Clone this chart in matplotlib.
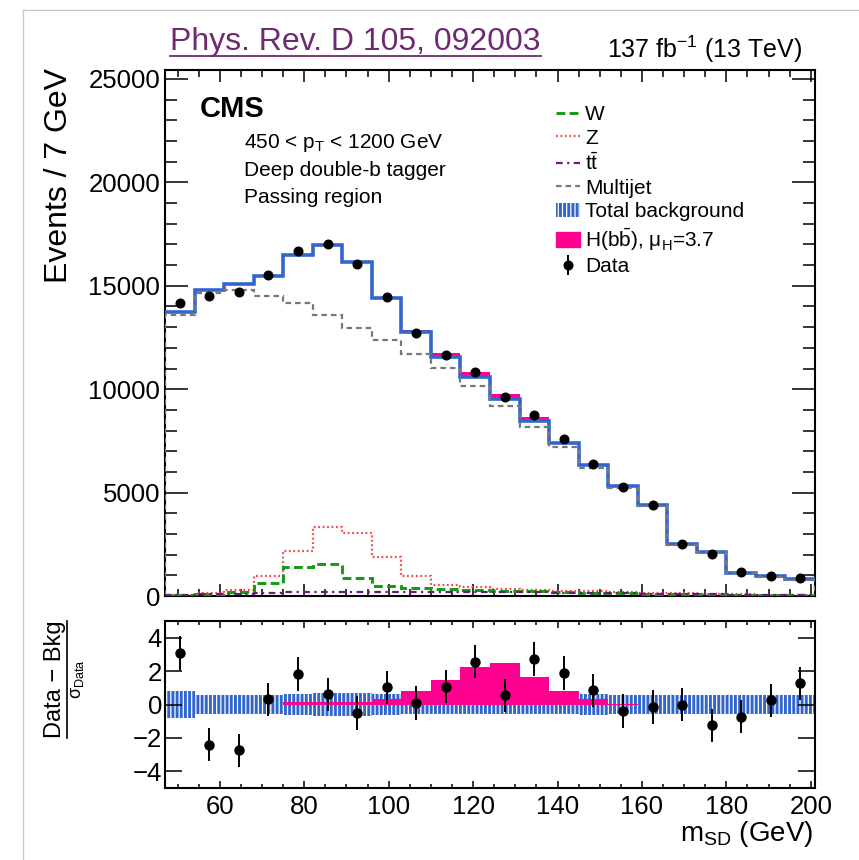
import numpy as np
import matplotlib.pyplot as plt
from matplotlib.lines import Line2D
from matplotlib.patches import Patch

plt.rcParams['font.family'] = ['Liberation Sans', 'DejaVu Sans']
plt.rcParams['mathtext.fontset'] = 'custom'
plt.rcParams['mathtext.rm'] = 'Liberation Sans'
plt.rcParams['mathtext.it'] = 'Liberation Sans:italic'
plt.rcParams['mathtext.bf'] = 'Liberation Sans:bold'
plt.rcParams['mathtext.sf'] = 'Liberation Sans'
plt.rcParams['hatch.linewidth'] = 2.1

# m_SD bins (7 GeV)
msd_edges = [47, 54, 61, 68, 75, 82, 89, 96, 103, 110, 117, 124, 131, 138,
             145, 152, 159, 166, 173, 180, 187, 194, 201]

data = [14160, 14520, 14700, 15520, 16670, 17010, 16050, 14470, 12710, 11660, 10820,
        9610, 8740, 7590, 6380, 5280, 4380, 2500, 2050, 1150, 980, 860]
total_bkg = [13730, 14780, 15070, 15470, 16470, 16960, 16150, 14410, 12790, 11580, 10610,
             9530, 8480, 7380, 6330, 5300, 4410, 2500, 2150, 1130, 950, 810]
multijet = [13600, 14650, 14810, 14490, 14160, 13600, 12970, 12360, 11710, 11030, 10140,
            9200, 8190, 7220, 6170, 5230, 4370, 2470, 2120, 1110, 935, 790]
z_bkg = [60, 130, 300, 970, 2180, 3330, 3070, 1890, 970, 530, 420,
         350, 300, 260, 220, 190, 160, 130, 110, 90, 70, 60]
w_bkg = [40, 90, 180, 645, 1420, 1530, 860, 480, 380, 330, 290,
         250, 220, 190, 160, 140, 120, 100, 80, 70, 55, 45]
tt_bkg = [40, 80, 120, 160, 190, 200, 210, 215, 215, 210, 200,
          190, 175, 160, 145, 130, 115, 100, 85, 70, 60, 50]

# lower panel: (data - bkg) / sigma_data, signal and bkg uncertainty in the same units
pull = [3.08, -2.41, -2.75, 0.30, 1.83, 0.60, -0.50, 1.03, 0.10, 1.07, 2.57,
        0.54, 2.73, 1.89, 0.84, -0.40, -0.16, 0.0, -1.25, -0.73, 0.24, 1.27]
sig_pull = [0, 0, 0, 0, 0.16, 0.16, 0.16, 0.34, 0.80, 1.45, 2.25,
            2.49, 1.65, 0.79, 0.30, 0.05, 0, 0, 0, 0, 0, 0]
bkg_unc = [0.82, 0.57, 0.57, 0.57, 0.63, 0.70, 0.70, 0.62, 0.57, 0.57, 0.57,
           0.58, 0.58, 0.55, 0.60, 0.55, 0.55, 0.55, 0.55, 0.55, 0.55, 0.58]

edges = np.array(msd_edges, dtype=float)
centers = 0.5 * (edges[1:] + edges[:-1])
widths = np.diff(edges)
data = np.array(data, dtype=float)
total_bkg = np.array(total_bkg, dtype=float)
sig_pull = np.array(sig_pull)
bkg_unc = np.array(bkg_unc)
sig_events = sig_pull * np.sqrt(data)

blue = '#3366cc'
pink = '#ff0090'
green = '#129a12'
red = '#f04848'
purple = '#6a1b7a'
gray = '#777777'

W, H = 859, 860
fig = plt.figure(figsize=(W / 100, H / 100), dpi=100)
ax = fig.add_axes([165 / W, 1 - 596 / H, 650 / W, 526 / H])
ax2 = fig.add_axes([165 / W, 1 - 788 / H, 650 / W, 167 / H], sharex=ax)

#
# Upper panel
#
ax.stairs(total_bkg + sig_events, edges, baseline=total_bkg, fill=True,
          color=pink, zorder=2)
ax.stairs(total_bkg, edges, baseline=None, color=blue, lw=2.6, zorder=3)
ax.stairs(multijet, edges, baseline=0, color=gray, lw=1.6, ls=(0, (2.5, 1.8)), zorder=4)
ax.stairs(z_bkg, edges, baseline=0, color=red, lw=1.6, ls=(0, (0.8, 1.2)), zorder=4)
ax.stairs(w_bkg, edges, baseline=0, color=green, lw=2.1, ls=(0, (3, 1.5)), zorder=4)
ax.stairs(tt_bkg, edges, baseline=0, color=purple, lw=1.6, ls=(0, (3, 2, 1, 2)), zorder=4)
data_eb = ax.errorbar(centers, data, yerr=np.sqrt(data), fmt='o', color='black',
                      ms=6.2, elinewidth=1.4, capsize=0, zorder=5)

ax.set_xlim(47, 201)
ax.set_ylim(0, 25435)
ax.set_yticks([0, 5000, 10000, 15000, 20000, 25000])
ax.set_yticks(np.arange(0, 25001, 1000), minor=True)
ax.set_xticks([60, 80, 100, 120, 140, 160, 180, 200])
ax.set_xticks(np.arange(50, 201, 5), minor=True)
ax.tick_params(which='both', direction='in', top=True, right=True, width=1.1,
               labelbottom=False, labelsize=18.5)
ax.tick_params(axis='y', which='major', length=16.5, pad=3.5)
ax.tick_params(axis='y', which='minor', length=8.5)
ax.tick_params(axis='x', which='major', length=8.5)
ax.tick_params(axis='x', which='minor', length=4.8)
for s in ax.spines.values():
    s.set_linewidth(1.5)

handles = [
    Line2D([], [], color=green, lw=2.1, ls=(0, (3, 1.5))),
    Line2D([], [], color=red, lw=1.6, ls=(0, (0.8, 1.2))),
    Line2D([], [], color=purple, lw=1.6, ls=(0, (3, 2, 1, 2))),
    Line2D([], [], color=gray, lw=1.6, ls=(0, (2.5, 1.8))),
    Patch(facecolor='none', edgecolor=blue, hatch='||||', linewidth=0),
    Patch(facecolor=pink, edgecolor=pink),
    data_eb,
]
labels = ['W', 'Z', r't$\bar{\mathrm{t}}$', 'Multijet', 'Total background',
          'H(b$\\bar{\\mathrm{b}}$), \u03bc$_{\\mathrm{H}}$=3.7', 'Data']
ax.legend(handles, labels, loc='upper left', bbox_to_anchor=(556 / W, 1 - 105 / H),
          bbox_transform=fig.transFigure, frameon=False, fontsize=15,
          handlelength=1.15, handletextpad=0.25, labelspacing=0.22,
          borderpad=0, borderaxespad=0)

#
# Lower panel
#
ax2.bar(centers, 2 * bkg_unc, bottom=-bkg_unc, width=widths, facecolor='none',
        edgecolor=blue, hatch='||||', linewidth=0, zorder=1)
ax2.stairs(sig_pull, edges, baseline=0, fill=True, color=pink, zorder=2)
ax2.errorbar(centers, pull, yerr=1, fmt='o', color='black', ms=6.5,
             elinewidth=1.4, capsize=0, zorder=5)
ax2.set_ylim(-5, 5)
ax2.set_yticks([-4, -2, 0, 2, 4])
ax2.tick_params(which='both', direction='in', top=True, right=True, width=1.1,
                labelsize=18.5)
ax2.tick_params(axis='y', which='major', length=12, pad=2)
ax2.tick_params(axis='x', which='major', length=5, pad=5)
ax2.tick_params(axis='x', which='minor', length=3)
for s in ax2.spines.values():
    s.set_linewidth(1.5)

#
# Texts
#
fig.text(59 / W, 1 - 68 / H, 'Events / 7 GeV', rotation=90, ha='center', va='top', fontsize=23)
fig.text(813 / W, 1 - 841 / H, r'm$_{\mathrm{SD}}$ (GeV)', ha='right', va='baseline', fontsize=20)

fig.text(66 / W, 1 - 679 / H, 'Data \u2212 Bkg', rotation=90, ha='right', va='center', fontsize=17)
fig.text(69 / W, 1 - 679 / H, '\u03c3$_{\\mathrm{Data}}$', rotation=90, ha='left', va='center', fontsize=13)
fig.add_artist(Line2D([67 / W, 67 / W], [1 - 738 / H, 1 - 621 / H], transform=fig.transFigure,
                      color='black', lw=1.2))

title = fig.text(170 / W, 1 - 50 / H, 'Phys. Rev. D 105, 092003', ha='left', va='baseline',
                 fontsize=23, color='#6e2a70')
fig.text(802 / W, 1 - 58 / H, r'137 fb$^{\mathrm{-1}}$ (13 TeV)', ha='right', va='baseline', fontsize=18)
fig.text(200 / W, 1 - 117 / H, 'CMS', ha='left', va='baseline', fontsize=21, fontweight='bold')
fig.text(244 / W, 1 - 148 / H, r'450 < p$_{\mathrm{T}}$ < 1200 GeV', ha='left', va='baseline', fontsize=15)
fig.text(244 / W, 1 - 176 / H, 'Deep double-b tagger', ha='left', va='baseline', fontsize=15)
fig.text(244 / W, 1 - 203 / H, 'Passing region', ha='left', va='baseline', fontsize=15)

# underline the reference and draw the page frame
fig.canvas.draw()
bb = title.get_window_extent().transformed(fig.transFigure.inverted())
fig.add_artist(Line2D([bb.x0, bb.x1], [1 - 56 / H, 1 - 56 / H], transform=fig.transFigure,
                      color='#6e2a70', lw=1.3))
fig.add_artist(Line2D([23 / W, 23 / W], [0, 1 - 10 / H], transform=fig.transFigure,
                      color='#c8c8c8', lw=1))
fig.add_artist(Line2D([23 / W, 1], [1 - 10 / H, 1 - 10 / H], transform=fig.transFigure,
                      color='#c8c8c8', lw=1))

fig.savefig('out.png', dpi=100)
